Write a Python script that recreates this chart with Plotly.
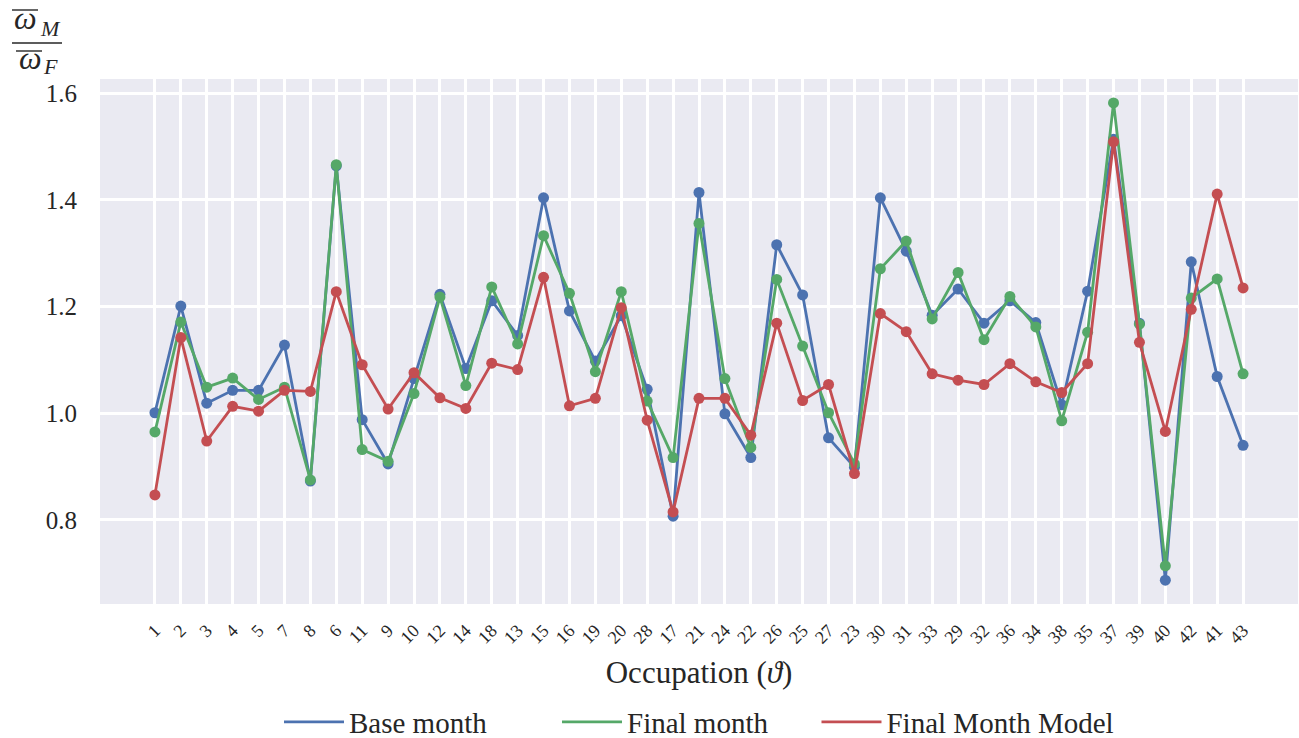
import plotly.graph_objects as go

occupations = ["1", "2", "3", "4", "5", "7", "8", "6", "11", "9", "10", "12", "14", "18",
               "13", "15", "16", "19", "20", "28", "17", "21", "24", "22", "26", "25", "27",
               "23", "30", "31", "33", "29", "32", "36", "34", "38", "35", "37", "39", "40",
               "42", "41", "43"]

base_month = [1.001, 1.201, 1.019, 1.043, 1.043, 1.128, 0.873, 1.464, 0.988, 0.905,
              1.065, 1.223, 1.084, 1.211, 1.146, 1.404, 1.192, 1.098, 1.183, 1.045,
              0.807, 1.414, 0.999, 0.917, 1.316, 1.222, 0.954, 0.899, 1.404, 1.304,
              1.184, 1.233, 1.169, 1.211, 1.170, 1.016, 1.229, 1.514, 1.169, 0.687,
              1.284, 1.069, 0.940]

final_month = [0.965, 1.171, 1.049, 1.066, 1.026, 1.049, 0.875, 1.466, 0.932, 0.910,
               1.037, 1.218, 1.052, 1.237, 1.130, 1.333, 1.225, 1.078, 1.228, 1.023,
               0.917, 1.356, 1.065, 0.936, 1.251, 1.126, 1.001, 0.905, 1.271, 1.323,
               1.177, 1.264, 1.138, 1.219, 1.162, 0.986, 1.152, 1.582, 1.167, 0.714,
               1.216, 1.252, 1.074]

final_month_model = [0.847, 1.142, 0.948, 1.013, 1.004, 1.043, 1.041, 1.228, 1.091, 1.008,
                     1.076, 1.029, 1.009, 1.094, 1.082, 1.255, 1.014, 1.028, 1.198, 0.987,
                     0.815, 1.028, 1.028, 0.959, 1.169, 1.024, 1.054, 0.887, 1.187, 1.153,
                     1.074, 1.062, 1.054, 1.093, 1.059, 1.039, 1.093, 1.509, 1.133, 0.966,
                     1.195, 1.411, 1.235]

y_ticks = [0.8, 1.0, 1.2, 1.4, 1.6]

series_names = ["Base month", "Final month", "Final Month Model"]
series_values = [base_month, final_month, final_month_model]
series_colors = ["#4C72B0", "#55A868", "#C44E52"]

FONT = "Liberation Serif"
TXT = "#262626"

# the page body margin is removed (post_script), so figure px == screen px
W, H = 1299, 738
L, R, T, B = 100, 1298, 79, 604   # plot area


def px(xs):
    return (xs - L) / (R - L)


def py(ys):
    return (B - ys) / (B - T)


fig = go.Figure()
for name, vals, col in zip(series_names, series_values, series_colors):
    fig.add_trace(go.Scatter(
        x=occupations, y=vals, mode="lines+markers", name=name,
        line=dict(color=col, width=2.8),
        marker=dict(color=col, size=11),
        showlegend=False,
    ))
# legend entries (line only, as in the reference)
pads = ["\u00a0" * 9, "\u00a0" * 6, ""]
for name, col, pad in zip(series_names, series_colors, pads):
    fig.add_trace(go.Scatter(
        x=[None], y=[None], mode="lines", name=name + pad,
        line=dict(color=col, width=2.8), showlegend=True,
    ))

fig.update_layout(
    width=W, height=H,
    margin=dict(l=L, r=W - R, t=T, b=H - B, autoexpand=False),
    paper_bgcolor="white",
    plot_bgcolor="#EAEAF2",
    font=dict(family=FONT, color=TXT),
    xaxis=dict(
        type="category",
        categoryorder="array", categoryarray=occupations,
        range=[-2.12, 44.12],
        tickangle=-45,
        tickfont=dict(size=18, family=FONT, color=TXT),
        showgrid=True, gridcolor="white", gridwidth=2.5,
        zeroline=False, showline=False, automargin=False,
        ticks="outside", ticklen=8, tickcolor="rgba(0,0,0,0)",
        title=dict(text="Occupation (<i>ϑ</i>)", font=dict(size=31, family=FONT, color=TXT),
                   standoff=14),
    ),
    yaxis=dict(
        range=[0.6424, 1.6268],
        tickvals=y_ticks, tickformat=".1f",
        tickfont=dict(size=25, family=FONT, color=TXT),
        showgrid=True, gridcolor="white", gridwidth=2.5,
        zeroline=False, showline=False, automargin=False,
        ticks="outside", ticklen=17, tickcolor="rgba(0,0,0,0)",
    ),
    legend=dict(
        orientation="h", x=0.5, xanchor="center",
        yref="container", y=1 - 722 / H, yanchor="middle",
        font=dict(size=29, family=FONT, color=TXT),
        bgcolor="rgba(0,0,0,0)", itemwidth=60, traceorder="normal",
    ),
)


# y-axis label: fraction  omega-bar_M / omega-bar_F  (positions in screen px)
def ann(text, xc, yc, size):
    fig.add_annotation(text=text, xref="paper", yref="paper", x=px(xc), y=py(yc),
                       xanchor="center", yanchor="middle", showarrow=False,
                       font=dict(size=size, family=FONT, color=TXT))


def hline(x0, x1, y, w=1.4):
    fig.add_shape(type="line", xref="paper", yref="paper",
                  x0=px(x0), x1=px(x1), y0=py(y), y1=py(y),
                  line=dict(color=TXT, width=w))


ann("<i>ω</i>", 25, 18, 32)
ann("<i>M</i>", 50, 29, 22)
hline(12, 38, 10)
hline(12, 62, 43)
ann("<i>ω</i>", 30, 58, 32)
ann("<i>F</i>", 50, 67, 22)
hline(16, 42, 51)

fig.write_html(
    "out.html",
    config={"displayModeBar": False},
    post_script="document.body.style.margin='0';document.body.style.padding='0';",
)
